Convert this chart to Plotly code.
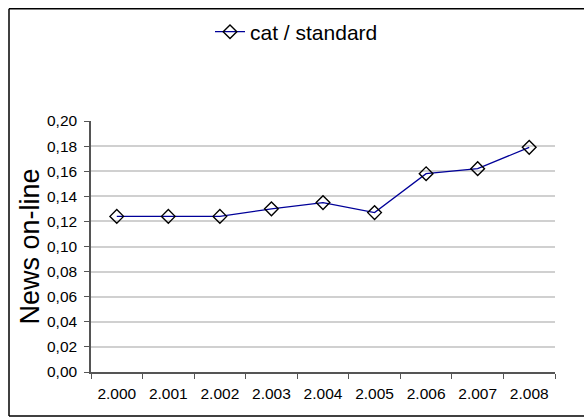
import plotly.graph_objects as go

years = ["2.000", "2.001", "2.002", "2.003", "2.004", "2.005", "2.006", "2.007", "2.008"]
values = [0.124, 0.124, 0.124, 0.130, 0.135, 0.127, 0.158, 0.162, 0.179]
series_name = "cat / standard"
y_ticks = [0.00, 0.02, 0.04, 0.06, 0.08, 0.10, 0.12, 0.14, 0.16, 0.18, 0.20]

W, H = 584, 420
L, R, T, B = 91, 29, 118, 48
pw, ph = W - L - R, H - T - B

def px(x):
    return (x - L) / pw

def py(y):
    return (H - B - y) / ph

fig = go.Figure()
fig.add_trace(go.Scatter(
    x=years, y=values, name=series_name, mode="lines+markers",
    line=dict(color="#000099", width=1.3),
    marker=dict(symbol="diamond-open", size=10.5, color="black", line=dict(width=1.4, color="black")),
))

border = dict(color="black", width=1.5)
shapes = [
    dict(type="line", xref="paper", yref="paper", x0=px(9), x1=px(590), y0=py(4.5), y1=py(4.5), line=border),
    dict(type="line", xref="paper", yref="paper", x0=px(9), x1=px(590), y0=py(416.5), y1=py(416.5), line=border),
    dict(type="line", xref="paper", yref="paper", x0=px(9), x1=px(9), y0=py(4.5), y1=py(416.5), line=border),
]

axis_col = "#555555"
fig.update_layout(
    width=W, height=H,
    margin=dict(l=L, r=R, t=T, b=B),
    paper_bgcolor="white", plot_bgcolor="white",
    separators=",.",
    font=dict(family="Liberation Sans, Arial, sans-serif", color="black", size=15.5),
    showlegend=True,
    legend=dict(x=px(210), y=py(28), xanchor="left", yanchor="middle",
                font=dict(size=21), bgcolor="rgba(0,0,0,0)"),
    shapes=shapes,
    xaxis=dict(type="category", range=[-0.5, 8.5], tickson="boundaries",
               ticks="outside", ticklen=5, tickcolor=axis_col, tickwidth=1.3,
               showline=True, linecolor=axis_col, linewidth=1.5,
               showgrid=False, zeroline=False, tickfont=dict(size=15.5),
               ticklabelstandoff=7),
    yaxis=dict(range=[0, 0.2], tickvals=y_ticks, tickformat=".2f",
               ticks="outside", ticklen=5, tickcolor=axis_col, tickwidth=1.3,
               showline=True, linecolor=axis_col, linewidth=1.5,
               showgrid=True, gridcolor="#d0d0d0", gridwidth=1.5, zeroline=False,
               tickfont=dict(size=15.5), ticklabelstandoff=4,
               title=dict(text="News on-line", font=dict(size=27), standoff=0)),
)

fig.write_html("out.html", config={"displayModeBar": False},
               post_script="document.body.style.margin='0';")
